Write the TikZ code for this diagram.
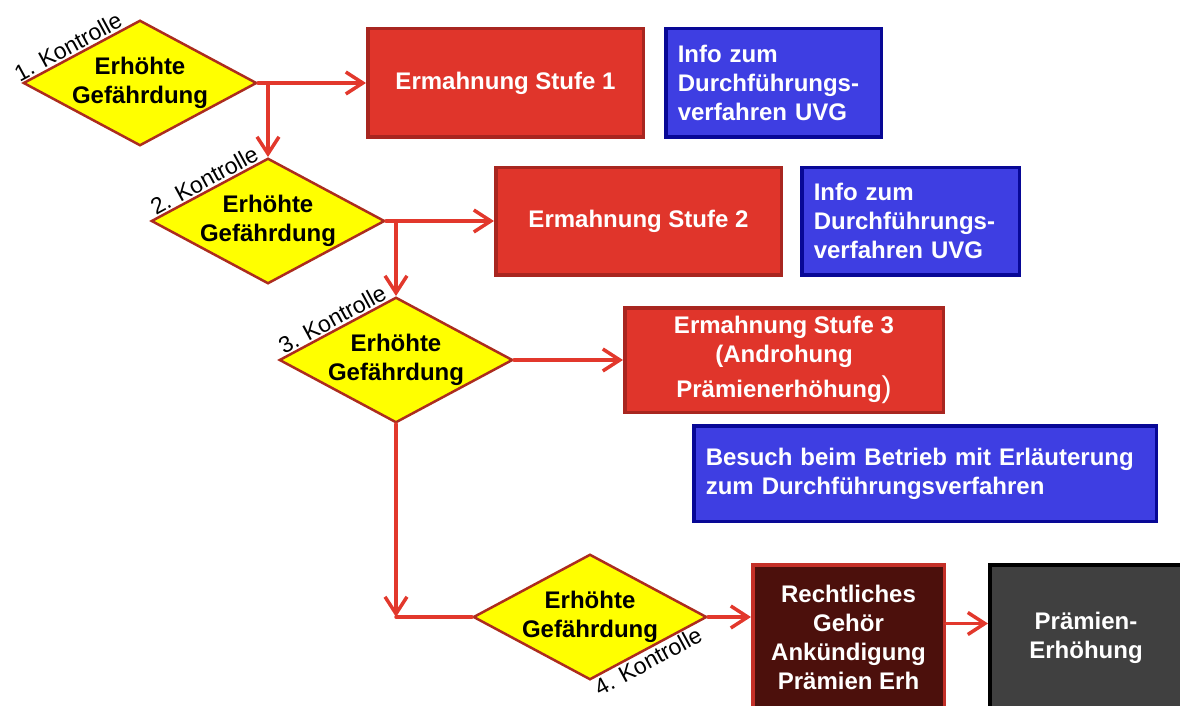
\documentclass[tikz,border=0pt]{standalone}
\usepackage{fontspec}
\setmainfont{Liberation Sans}
\usetikzlibrary{shapes.geometric,positioning,arrows.meta}

\definecolor{pfeilrot}{RGB}{226,56,44}
\definecolor{mahnrot}{RGB}{224,53,43}
\definecolor{mahnrand}{RGB}{168,38,32}
\definecolor{gelb}{RGB}{255,255,0}
\definecolor{gelbrand}{RGB}{172,44,30}
\definecolor{infoblau}{RGB}{62,62,226}
\definecolor{infrand}{RGB}{8,8,150}
\definecolor{gehoerbraun}{RGB}{76,16,12}
\definecolor{gehoerrand}{RGB}{196,48,40}
\definecolor{grau}{RGB}{64,64,64}

\begin{document}
\begin{tikzpicture}[x=1pt,y=-1pt,>={Straight Barb[length=17pt,width=22pt]},
  pfeil/.style={->,color=pfeilrot,line width=3.5pt,line cap=round},
  gefahr/.style={diamond,draw=gelbrand,fill=gelb,line width=2.5pt,aspect=1.86,
    minimum width=233.5pt,minimum height=125.5pt,inner sep=0pt,align=center,
    font=\bfseries\fontsize{24}{29}\selectfont},
  kontrolle/.style={sloped,inner sep=1.5pt,font=\fontsize{23}{27}\selectfont},
  mahnung/.style={rectangle,draw=mahnrand,fill=mahnrot,text=white,line width=3.5pt,
    align=center,font=\bfseries\fontsize{24}{29}\selectfont},
  infobox/.style={rectangle,draw=infrand,fill=infoblau,text=white,line width=3.5pt,
    align=left,inner xsep=12pt,font=\bfseries\fontsize{24}{29}\selectfont},
  gehoer/.style={mahnung,draw=gehoerrand,fill=gehoerbraun},
  erhoehung/.style={mahnung,draw=black,fill=grau,line width=4pt}]
  \useasboundingbox (0,0) rectangle (1180,706);

  % Kontrollen
  \node[gefahr] (d1) at (140,83)  {Erhöhte\\Gefährdung};
  \node[gefahr] (d2) at (268,221) {Erhöhte\\Gefährdung};
  \node[gefahr] (d3) at (396,360) {Erhöhte\\Gefährdung};
  \node[gefahr] (d4) at (590,617) {Erhöhte\\Gefährdung};

  \path (d1.west) -- (d1.north) node[kontrolle,above,pos=0.43] (k1) {1. Kontrolle};
  \path (d2.west) -- (d2.north) node[kontrolle,above,pos=0.5] (k2) {2. Kontrolle};
  \path (d3.west) -- (d3.north) node[kontrolle,above,pos=0.5] (k3) {3. Kontrolle};
  \path (d4.south) -- (d4.east) node[kontrolle,below,pos=0.45] (k4) {4. Kontrolle};

  % Massnahmen
  \node[mahnung,minimum width=275.5pt,minimum height=108.5pt] (b1) [right=108pt of d1] {Ermahnung Stufe 1};
  \node[infobox,text width=191.5pt,minimum height=108.5pt] (i1) [right=19pt of b1]
    {Info zum\\Durchführungs-\\verfahren UVG};
  \node[mahnung,minimum width=285.5pt,minimum height=107.5pt] (b2) [right=108pt of d2] {Ermahnung Stufe 2};
  \node[infobox,text width=193.5pt,minimum height=107.5pt] (i2) [right=17pt of b2]
    {Info zum\\Durchführungs-\\verfahren UVG};
  \node[mahnung,minimum width=318.5pt,minimum height=104.5pt] (b3) [right=109pt of d3]
    {Ermahnung Stufe 3\\(Androhung\\[6pt]Prämienerhöhung{\mdseries\fontsize{30}{30}\selectfont)}};
  \node[infobox,text width=438.5pt,minimum height=95.5pt] (i3) at (925,473.5)
    {Besuch beim Betrieb mit Erläuterung\\zum Durchführungsverfahren};
  \node[gehoer,minimum width=191.5pt,minimum height=145.5pt] (b4) at (848.5,637.5)
    {Rechtliches\\Gehör\\Ankündigung\\Prämien Erh};
  \node[erhoehung,minimum width=192pt,minimum height=145pt] (b5) at (1086,637.5)
    {Prämien-\\Erhöhung};

  \coordinate (j1) at (d2 |- d1);
  \coordinate (j2) at (d3 |- d2);
  \coordinate (j3) at (d3 |- d4);

  \path[pfeil] (d1) edge (b1)
        (j1) edge (d2)
        (d2) edge (b2)
        (j2) edge (d3)
        (d3) edge (b3)
             edge (j3)
        (j3) edge[-] (d4)
        (d4.east) edge (d4.east -| b4.west)
        ([yshift=14pt]b4.east) edge ([yshift=14pt]b5.west);
\end{tikzpicture}
\end{document}
